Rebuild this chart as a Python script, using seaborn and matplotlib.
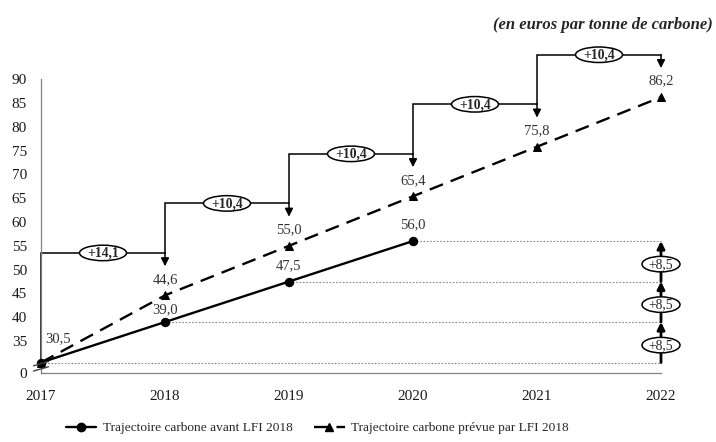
import numpy as np
import pandas as pd
import matplotlib
matplotlib.use("Agg")
import matplotlib.pyplot as plt
import matplotlib.transforms as mtransforms
from matplotlib.patches import Ellipse
from matplotlib.lines import Line2D
import seaborn as sns

# ---------------- data ----------------
years_avant = [2017, 2018, 2019, 2020]
values_avant = [30.5, 39.0, 47.5, 56.0]
labels_avant = ["30,5", "39,0", "47,5", "56,0"]

years_lfi = [2017, 2018, 2019, 2020, 2021, 2022]
values_lfi = [30.5, 44.6, 55.0, 65.4, 75.8, 86.2]
labels_lfi = ["", "44,6", "55,0", "65,4", "75,8", "86,2"]

step_years = [2017, 2018, 2019, 2020, 2021, 2022]
step_levels = [53.5, 63.9, 74.3, 84.7, 95.1]
step_labels = ["+14,1", "+10,4", "+10,4", "+10,4", "+10,4"]

gap_labels = ["+8,5", "+8,5", "+8,5"]

ytick_values = [28.3, 35, 40, 45, 50, 55, 60, 65, 70, 75, 80, 85, 90]
ytick_labels = ["0", "35", "40", "45", "50", "55", "60", "65", "70", "75", "80", "85", "90"]
xtick_values = [2017, 2018, 2019, 2020, 2021, 2022]

legend_labels = ["Trajectoire carbone avant LFI 2018",
                 "Trajectoire carbone prévue par LFI 2018"]
subtitle = "(en euros par tonne de carbone)"

# ---------------- style ----------------
sns.set_style("white")
plt.rcParams["font.family"] = ["Liberation Serif", "DejaVu Serif"]
plt.rcParams["font.size"] = 10

fig = plt.figure(figsize=(7.16, 4.42), dpi=100)
ax = fig.add_axes([0.05726, 0.15611, 0.86592, 0.7405])
ax.set_xlim(2017, 2022)
ax.set_ylim(28.3, 97)

df_a = pd.DataFrame({"year": years_avant, "value": values_avant})
df_l = pd.DataFrame({"year": years_lfi, "value": values_lfi})

dash = (0, (6, 3.5))


def oval(x, y, text, w, h, bold):
    tr = mtransforms.Affine2D() + mtransforms.ScaledTranslation(x, y, ax.transData)
    e = Ellipse((0, 0), w, h, transform=tr, fc="white", ec="black", lw=1.1,
                zorder=5, clip_on=False)
    ax.add_patch(e)
    ax.text(x, y, text, ha="center", va="center", fontsize=9.8,
            fontweight="bold" if bold else "normal", zorder=6,
            transform=ax.transData + mtransforms.Affine2D().translate(0, -0.5))


# dotted reference lines
for y, v in zip(years_avant, values_avant):
    ax.plot([y, 2022], [v, v], color="#8a8a8a", lw=0.8, ls=(0, (1.5, 1.5)),
            zorder=1, clip_on=False)

sns.lineplot(data=df_l, x="year", y="value", ax=ax, color="black", lw=1.7,
             linestyle=dash, marker="^", markersize=5.5, markeredgecolor="black",
             clip_on=False, zorder=3)
sns.lineplot(data=df_a, x="year", y="value", ax=ax, color="black", lw=1.7,
             marker="o", markersize=6, markeredgecolor="black",
             clip_on=False, zorder=4)

# value labels
for y, v, t in zip(years_lfi, values_lfi, labels_lfi):
    if t:
        ax.annotate(t, (y, v), xytext=(0, 16), textcoords="offset pixels",
                    ha="center", va="center", fontsize=10.5, color="#333333")
for i, (y, v, t) in enumerate(zip(years_avant, values_avant, labels_avant)):
    off = (0, 16)
    if i == 0:
        off = (17, 24)
    elif i == 1:
        off = (0, 12)
    ax.annotate(t, (y, v), xytext=off, textcoords="offset pixels",
                ha="center", va="center", fontsize=10.5, color="#333333")

# step annotations
bases = [values_lfi[0]] + step_levels[:-1]
for i, lev in enumerate(step_levels):
    x0, x1 = step_years[i], step_years[i + 1]
    ax.plot([x0, x0, x1], [bases[i], lev, lev], color="black", lw=1.1,
            zorder=2, clip_on=False, solid_joinstyle="miter")
    ax.annotate("", xy=(x1, lev - 2.8), xytext=(x1, lev + 0.05),
                arrowprops=dict(arrowstyle="-|>", color="black", lw=1.1,
                                mutation_scale=12, shrinkA=0, shrinkB=0),
                annotation_clip=False)
    oval((x0 + x1) / 2, lev, step_labels[i], 47, 15.5, True)

# gap arrows at 2022
for k, t in enumerate(gap_labels):
    v0, v1 = values_avant[k], values_avant[k + 1]
    ax.annotate("", xy=(2022, v1), xytext=(2022, v0),
                arrowprops=dict(arrowstyle="-|>", color="black", lw=2.0,
                                mutation_scale=11, shrinkA=0, shrinkB=0),
                annotation_clip=False)
    oval(2022, (v0 + v1) / 2 - 0.6, t, 38, 15.5, False)

# axes
ax.set_xticks(xtick_values)
ax.set_xticklabels([str(x) for x in xtick_values], fontsize=11)
ax.set_yticks(ytick_values)
ax.set_yticklabels(ytick_labels, fontsize=11)
ax.set_xlabel("")
ax.set_ylabel("")
for s in ["top", "right"]:
    ax.spines[s].set_visible(False)
for s in ["left", "bottom"]:
    ax.spines[s].set_color("#808080")
    ax.spines[s].set_linewidth(0.9)
ax.spines["left"].set_bounds(28.3, 90)
ax.tick_params(axis="both", which="major", direction="out", length=5,
               width=0.9, color="#808080", labelcolor="#1a1a1a")
ax.tick_params(axis="x", pad=7)
ax.tick_params(axis="y", pad=5)
ax.grid(False)
if ax.get_legend():
    ax.get_legend().remove()

# axis break marker
for y0 in (0.006, 0.022):
    ax.plot([-0.012, 0.012], [y0, y0 + 0.013], transform=ax.transAxes,
            color="#444444", lw=1.0, clip_on=False, zorder=6)

# legend
handles = [Line2D([], [], color="black", lw=1.7, marker="o", markersize=6),
           Line2D([], [], color="black", lw=1.7, ls=dash, marker="^", markersize=5.5)]
fig.legend(handles, legend_labels, loc="lower center", bbox_to_anchor=(0.443, -0.01),
           ncol=2, frameon=False, fontsize=9.6, handlelength=2.3,
           handletextpad=0.5, columnspacing=1.6)

fig.text(0.996, 0.943, subtitle, ha="right", va="center", fontsize=12,
         style="italic", fontweight="semibold")

fig.savefig("out.png", dpi=100)
